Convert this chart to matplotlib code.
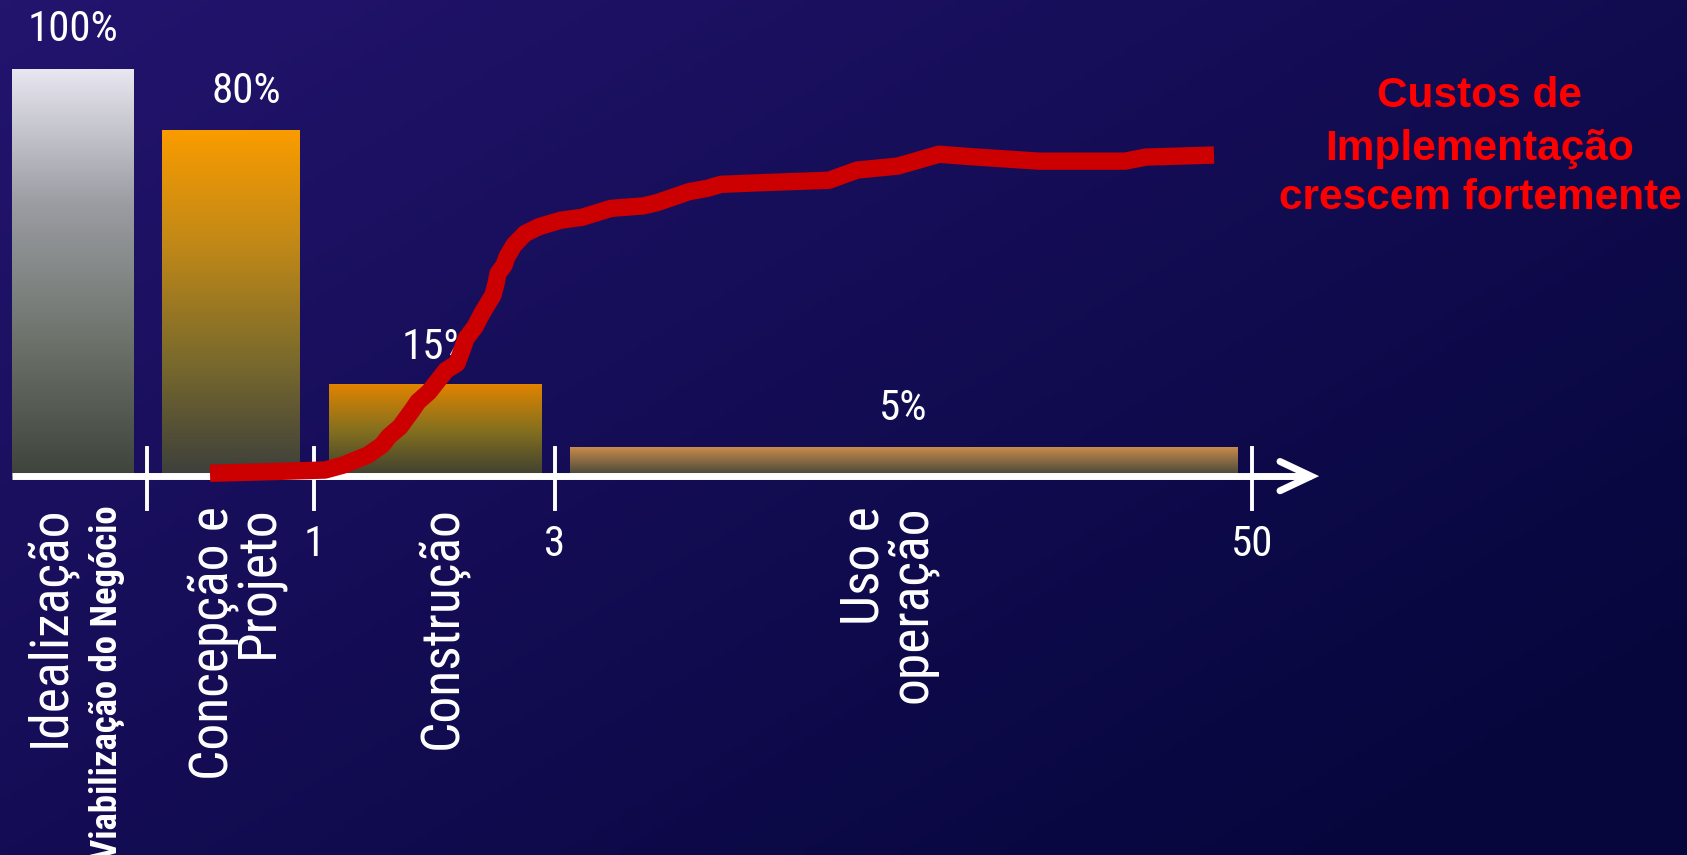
import numpy as np
import matplotlib
matplotlib.use('Agg')
import matplotlib.pyplot as plt
from matplotlib import font_manager
from matplotlib.colors import LinearSegmentedColormap

# bars: phase blocks (x in slide units, height in % of the first bar)
bar_labels = ['100%', '80%', '15%', '5%']
bar_left = [12, 162, 329, 570]
bar_right = [134, 300, 542, 1238]
bar_height = [100, 85, 22.4, 6.9]
bar_colors = [['#3e443c', '#6d736b', '#9a9ca2', '#e8e6f0'],
              ['#3c3f3c', '#7a6a2c', '#c08818', '#fa9c00'],
              ['#3e4032', '#85701e', '#e08400'],
              ['#40443a', '#c98c4c']]
pct_x = [73, 246, 436, 903]
pct_y = [109.8, 94.6, 31.7, 16.5]

# time axis
tick_x = [147, 314, 555, 1252]
tick_labels = ['', '1', '3', '50']

# phase names (vertical)
phase_names = ['Idealização', 'Concepção e\nProjeto', 'Construção', 'Uso e\noperação']
phase_x = [50, 236, 442, 888]

# cost curve
curve_x = [210, 271, 325, 343, 368, 382, 389, 400, 411, 418, 429, 437, 446, 457,
           462, 466, 475, 482, 493, 496, 498, 504, 507, 514, 525, 539, 561, 582,
           611, 643, 657, 689, 707, 721, 760, 829, 857, 898, 939, 971, 1039,
           1125, 1146, 1214]
curve_y = [0.7, 1.1, 1.5, 2.7, 5.2, 7.6, 9.8, 12.1, 15.8, 18.3, 20.7, 23.2, 26.0,
           27.7, 31.0, 33.8, 36.7, 40.0, 44.5, 47.3, 49.8, 51.8, 53.9, 56.8, 59.6,
           61.3, 62.9, 63.6, 65.8, 66.4, 67.2, 69.9, 70.7, 71.7, 72.1, 72.7, 75.2,
           76.2, 79.1, 78.5, 77.4, 77.4, 78.4, 78.9]
note_lines = ['Custos de', 'Implementação', 'crescem fortemente']
note_y = [90.7, 77.6, 65.6]

names = {f.name for f in font_manager.fontManager.ttflist}
narrow = None
for cand in ['Liberation Sans Narrow', 'Arial Narrow', 'Roboto Condensed', 'DejaVu Sans Condensed']:
    if cand in names:
        narrow = cand
        break
if narrow is None:
    narrow = 'Liberation Sans'
    k = 0.83   # shrink so the text lengths match the narrow original
else:
    k = 1.0

fig = plt.figure(figsize=(16.87, 8.55), dpi=100)

# background gradient
bg = fig.add_axes([0, 0, 1, 1], zorder=0)
gx, gy = np.meshgrid(np.linspace(0, 1, 300), np.linspace(0, 1, 150))
g = np.clip(gx * 0.6 + gy * 0.5, 0, 1)
bg_cmap = LinearSegmentedColormap.from_list('bg', ['#23146e', '#140d55', '#06063c'])
bg.imshow(g, cmap=bg_cmap, aspect='auto', extent=(0, 1, 0, 1), origin='upper')
bg.axis('off')

ax = fig.add_axes([0, 0, 1, 1], zorder=1)
ax.patch.set_alpha(0)
ax.axis('off')

# gradient bars
for i in range(len(bar_height)):
    cm = LinearSegmentedColormap.from_list('b%d' % i, bar_colors[i])
    grad = np.linspace(0, 1, 256).reshape(-1, 1)
    ax.imshow(grad, cmap=cm, aspect='auto', origin='lower',
              extent=(bar_left[i], bar_right[i], 0, bar_height[i]), zorder=2)
    ax.text(pct_x[i], pct_y[i], bar_labels[i], color='white', fontsize=31 * k,
            family=narrow, ha='center', va='center', zorder=3)
ax.set_xlim(0, 1687)
ax.set_ylim(-93.1, 117.0)

# axis with arrow and ticks
ax.plot([12, 1311], [0, 0], color='white', lw=5, solid_capstyle='butt', zorder=4)
ax.plot([1280, 1311, 1280], [3.6, 0, -3.6], color='white', lw=5,
        solid_capstyle='round', solid_joinstyle='miter', zorder=4)
for tx, tl in zip(tick_x, tick_labels):
    ax.plot([tx, tx], [7.0, -8.0], color='white', lw=2.8, zorder=4)
    if tl:
        ax.text(tx, -16.7, tl, color='white', fontsize=31 * k, family=narrow,
                ha='center', va='center', zorder=4)

# vertical phase names
for px, name in zip(phase_x, phase_names):
    ax.text(px, -7.3, name, color='white', fontsize=38.5 * k, family=narrow,
            rotation=90, ha='center', va='top', multialignment='right',
            linespacing=0.88, zorder=4)
ax.text(107, -7.3, 'Viabilização do Negócio', color='white', fontsize=26.5 * k,
        family=narrow, fontweight='bold', rotation=90, ha='center', va='top',
        zorder=4)

# cost curve
ax.plot(curve_x, curve_y, color='#cc0000', lw=12.5, solid_capstyle='butt',
        solid_joinstyle='round', zorder=5)

for line, ny in zip(note_lines, note_y):
    ax.text(1480, ny, line, color='#ff0000', fontsize=30.5, fontweight='bold',
            family='Liberation Sans', ha='center', va='baseline', zorder=5)

fig.savefig('out.png', dpi=100)
